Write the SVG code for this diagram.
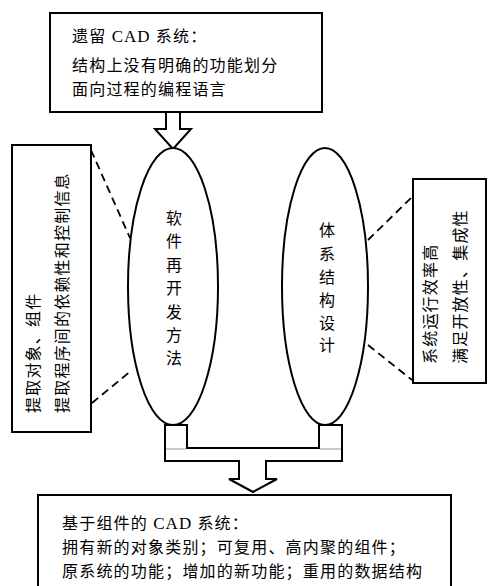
<svg xmlns="http://www.w3.org/2000/svg" width="488" height="586" viewBox="0 0 488 586">
<style>
.box{fill:#fff;stroke:#000;stroke-width:2}
.ell{fill:#fff;stroke:#000;stroke-width:2}
.dash{fill:none;stroke:#000;stroke-width:1.8;stroke-dasharray:8,5}
.arr{fill:#fff;stroke:#000;stroke-width:2;stroke-linejoin:miter}
.t{font-family:"Noto Sans CJK SC","Noto Sans",sans-serif;font-size:16px;letter-spacing:1.2px;fill:#000}
.lat{font-family:"Liberation Serif",serif;font-size:17px;letter-spacing:1px}
.v{font-family:"Noto Sans CJK SC","Noto Sans",sans-serif;font-size:16px;fill:#000;text-anchor:middle}
</style>
<rect width="488" height="586" fill="#fff"/>
<g id="connectors">
<path class="arr" d="M166,112 L180,112 L180,129 L191,129 L173,149 L155,129 L166,129 Z"/>
<path class="dash" d="M91,150 L130,238"/>
<path class="dash" d="M92,403 L132,370"/>
<path class="dash" d="M368,240 L411,198"/>
<path class="dash" d="M368,345 L412,380"/>
<path class="arr" d="M165,425 L187,425 L187,448 L319,448 L319,425 L342,425 L342,461 L266,461 L266,479 L277,479 L253,492 L229,479 L239,479 L239,461 L165,461 Z"/>
<path d="M166,449 L186,449 M320,449 L341,449" stroke="#bbb" stroke-width="1.5" fill="none"/>
</g>
<g id="legacy">
<rect class="box" x="50" y="13" width="272" height="99"/>
<text class="t" x="72" y="42">遗留<tspan class="lat"> CAD </tspan>系统：</text>
<text class="t" x="72" y="71">结构上没有明确的功能划分</text>
<text class="t" x="72" y="95">面向过程的编程语言</text>
</g>
<g id="reuse">
<ellipse class="ell" cx="173" cy="286.5" rx="45" ry="138.5"/>
<text class="v" x="174"><tspan x="174" y="224">软</tspan><tspan x="174" y="247">件</tspan><tspan x="174" y="271">再</tspan><tspan x="174" y="294">开</tspan><tspan x="174" y="318">发</tspan><tspan x="174" y="341">方</tspan><tspan x="174" y="364">法</tspan></text>
</g>
<g id="arch">
<ellipse class="ell" cx="325" cy="286.5" rx="43" ry="138.5"/>
<text class="v" x="327"><tspan x="327" y="236">体</tspan><tspan x="327" y="260">系</tspan><tspan x="327" y="283">结</tspan><tspan x="327" y="306">构</tspan><tspan x="327" y="329">设</tspan><tspan x="327" y="351">计</tspan></text>
</g>
<g id="extract">
<rect class="box" x="12" y="145" width="79" height="287"/>
<text class="t" transform="translate(39,413) rotate(-90)">提取对象、组件</text>
<text class="t" transform="translate(68,413) rotate(-90)">提取程序间的依赖性和控制信息</text>
</g>
<g id="perf">
<rect class="box" x="413" y="179" width="73" height="204"/>
<text class="t" transform="translate(436,364) rotate(-90)">系统运行效率高</text>
<text class="t" transform="translate(466,364) rotate(-90)">满足开放性、集成性</text>
</g>
<g id="result">
<rect class="box" x="38" y="495" width="413" height="100"/>
<text class="t" x="62" y="529">基于组件的<tspan class="lat"> CAD </tspan>系统：</text>
<text class="t" x="62" y="553">拥有新的对象类别；可复用、高内聚的组件；</text>
<text class="t" x="62" y="577">原系统的功能；增加的新功能；重用的数据结构</text>
</g>
</svg>
